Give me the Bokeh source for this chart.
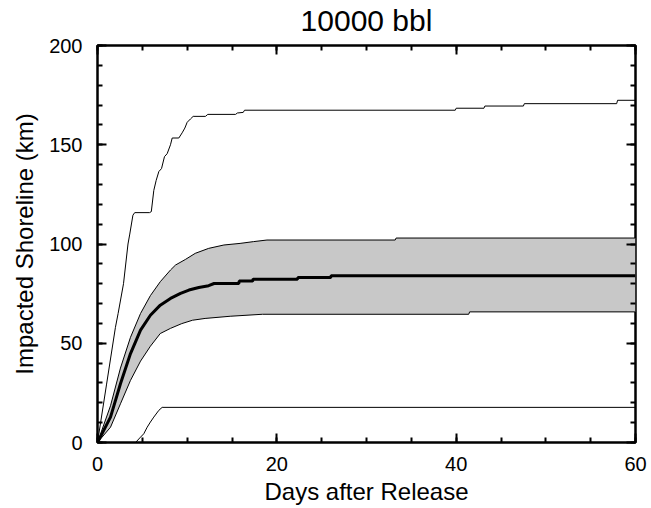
from bokeh.plotting import figure
from bokeh.models import LinearAxis, SingleIntervalTicker, Range1d, CustomJSTickFormatter
from bokeh.embed import file_html
from bokeh.resources import INLINE

FONT = "Liberation Sans"

# ---- data (days after release, km of shoreline) ----
max_days = [0, 1.0, 2.0, 2.3, 2.9, 3.4, 3.6, 3.95, 4.15, 5.8, 6.0, 6.28, 6.54, 6.84, 7.14, 7.47, 7.77,
            8.14, 8.33, 9.07, 9.44, 9.74, 10.0, 10.37, 10.67, 12.04, 12.3, 15.4, 15.6, 16.25, 16.4,
            39.9, 40.0, 43.1, 43.2, 47.5, 47.6, 57.9, 58.0, 60]
max_km = [0, 29, 58, 65, 80, 100, 105, 114.5, 115.8, 115.8, 116.3, 127, 132, 136.5, 138, 144, 145.5,
          150, 153.4, 153.4, 156, 158.4, 161.3, 163, 164.3, 164.3, 165.3, 165.3, 166, 166.3, 167.4,
          167.4, 168.4, 168.4, 169.5, 169.5, 170.7, 170.7, 172.4, 172.4]

upper_days = [0, 1.45, 2.56, 3.68, 4.8, 5.9, 7.0, 8.14, 8.7, 9.8, 10.9, 12.4, 14.1, 15.9, 17.4, 18.9,
              33.2, 33.3, 60]
upper_km = [0, 18.5, 37.5, 53, 65, 74, 81, 86.9, 89.4, 92.2, 95.3, 97.8, 99.5, 100.3, 101.2, 102,
            102, 103, 103]

mean_days = [0, 1.45, 2.56, 3.68, 4.8, 5.9, 7.0, 8.14, 9.26, 10.2, 11.3, 12.4, 13.0, 15.76, 15.8,
             17.3, 17.35, 22.3, 22.35, 26.0, 26.05, 60]
mean_km = [0, 12.8, 29.6, 44.8, 56.6, 64.1, 69.2, 72.6, 75.1, 76.8, 78.1, 79.0, 80.1, 80.1, 81.3,
           81.3, 82.3, 82.3, 83.1, 83.1, 84.0, 84.0]

lower_days = [0, 1.45, 2.56, 3.68, 4.8, 5.9, 7.0, 8.14, 9.4, 10.6, 12.0, 14.8, 18.4, 41.4, 41.5, 60]
lower_km = [0, 7.7, 19.5, 31.3, 41.0, 48.5, 54.9, 57.5, 59.9, 61.6, 62.5, 63.6, 64.6, 64.6, 65.8, 65.8]

min_days = [0, 4.24, 4.8, 5.16, 5.54, 5.9, 6.28, 6.84, 7.21, 60]
min_km = [0, 0, 2.7, 4.4, 7.7, 10.3, 12.8, 16.2, 17.7, 17.7]

x_ticks_major = 20
x_ticks_minor = 4
y_ticks_major = 50
y_ticks_minor = 5

title_text = "10000 bbl"
x_label = "Days after Release"
y_label = "Impacted Shoreline (km)"

# ---- figure ----
p = figure(width=651, height=508, output_backend="svg", toolbar_location=None, title=None,
           x_range=Range1d(0, 60), y_range=Range1d(0, 200),
           min_border_left=97, min_border_right=16, min_border_top=45, min_border_bottom=66)
p.background_fill_color = "white"
p.border_fill_color = "white"
p.grid.visible = False
p.outline_line_color = "black"
p.outline_line_width = 2.5


def style_axis(ax, labels=True):
    ax.axis_line_color = None
    ax.major_tick_in = 9
    ax.major_tick_out = 0
    ax.minor_tick_in = 5
    ax.minor_tick_out = 0
    ax.major_tick_line_width = 2
    ax.minor_tick_line_width = 2
    ax.major_tick_line_color = "black"
    ax.minor_tick_line_color = "black"
    ax.axis_label_text_font = FONT
    ax.axis_label_text_font_size = "24px"
    ax.axis_label_text_font_style = "normal"
    ax.axis_label_text_color = "black"
    if labels:
        ax.major_label_text_font = FONT
        ax.major_label_text_font_size = "20px"
        ax.major_label_text_color = "black"
    else:
        ax.formatter = CustomJSTickFormatter(code="return ''")
        ax.major_label_text_font_size = "0px"
        ax.major_label_standoff = 0


xt = SingleIntervalTicker(interval=x_ticks_major, num_minor_ticks=x_ticks_minor)
yt = SingleIntervalTicker(interval=y_ticks_major, num_minor_ticks=y_ticks_minor)

xa = p.xaxis[0]
xa.ticker = xt
style_axis(xa)
xa.major_label_standoff = 14
xa.axis_label = x_label
xa.axis_label_standoff = 4

ya = p.yaxis[0]
ya.ticker = yt
style_axis(ya)
ya.major_label_standoff = 15
ya.axis_label = y_label
ya.axis_label_standoff = 8

# top axis carries the chart title as its label
top = LinearAxis(ticker=SingleIntervalTicker(interval=x_ticks_major, num_minor_ticks=x_ticks_minor))
style_axis(top, labels=False)
top.axis_label = title_text
top.axis_label_text_font_size = "30px"
top.axis_label_standoff = 9
p.add_layout(top, "above")

right = LinearAxis(ticker=SingleIntervalTicker(interval=y_ticks_major, num_minor_ticks=y_ticks_minor))
style_axis(right, labels=False)
p.add_layout(right, "right")

# ---- band ----
band_x = upper_days + lower_days[::-1]
band_y = upper_km + lower_km[::-1]
p.patch(band_x, band_y, fill_color="#c8c8c8", line_color=None)
p.line(upper_days, upper_km, line_color="black", line_width=1)
p.line(lower_days, lower_km, line_color="black", line_width=1)
p.line(mean_days, mean_km, line_color="black", line_width=3)
p.line(max_days, max_km, line_color="black", line_width=1)
p.line(min_days, min_km, line_color="black", line_width=1)

open("out.html", "w").write(file_html(p, INLINE))
